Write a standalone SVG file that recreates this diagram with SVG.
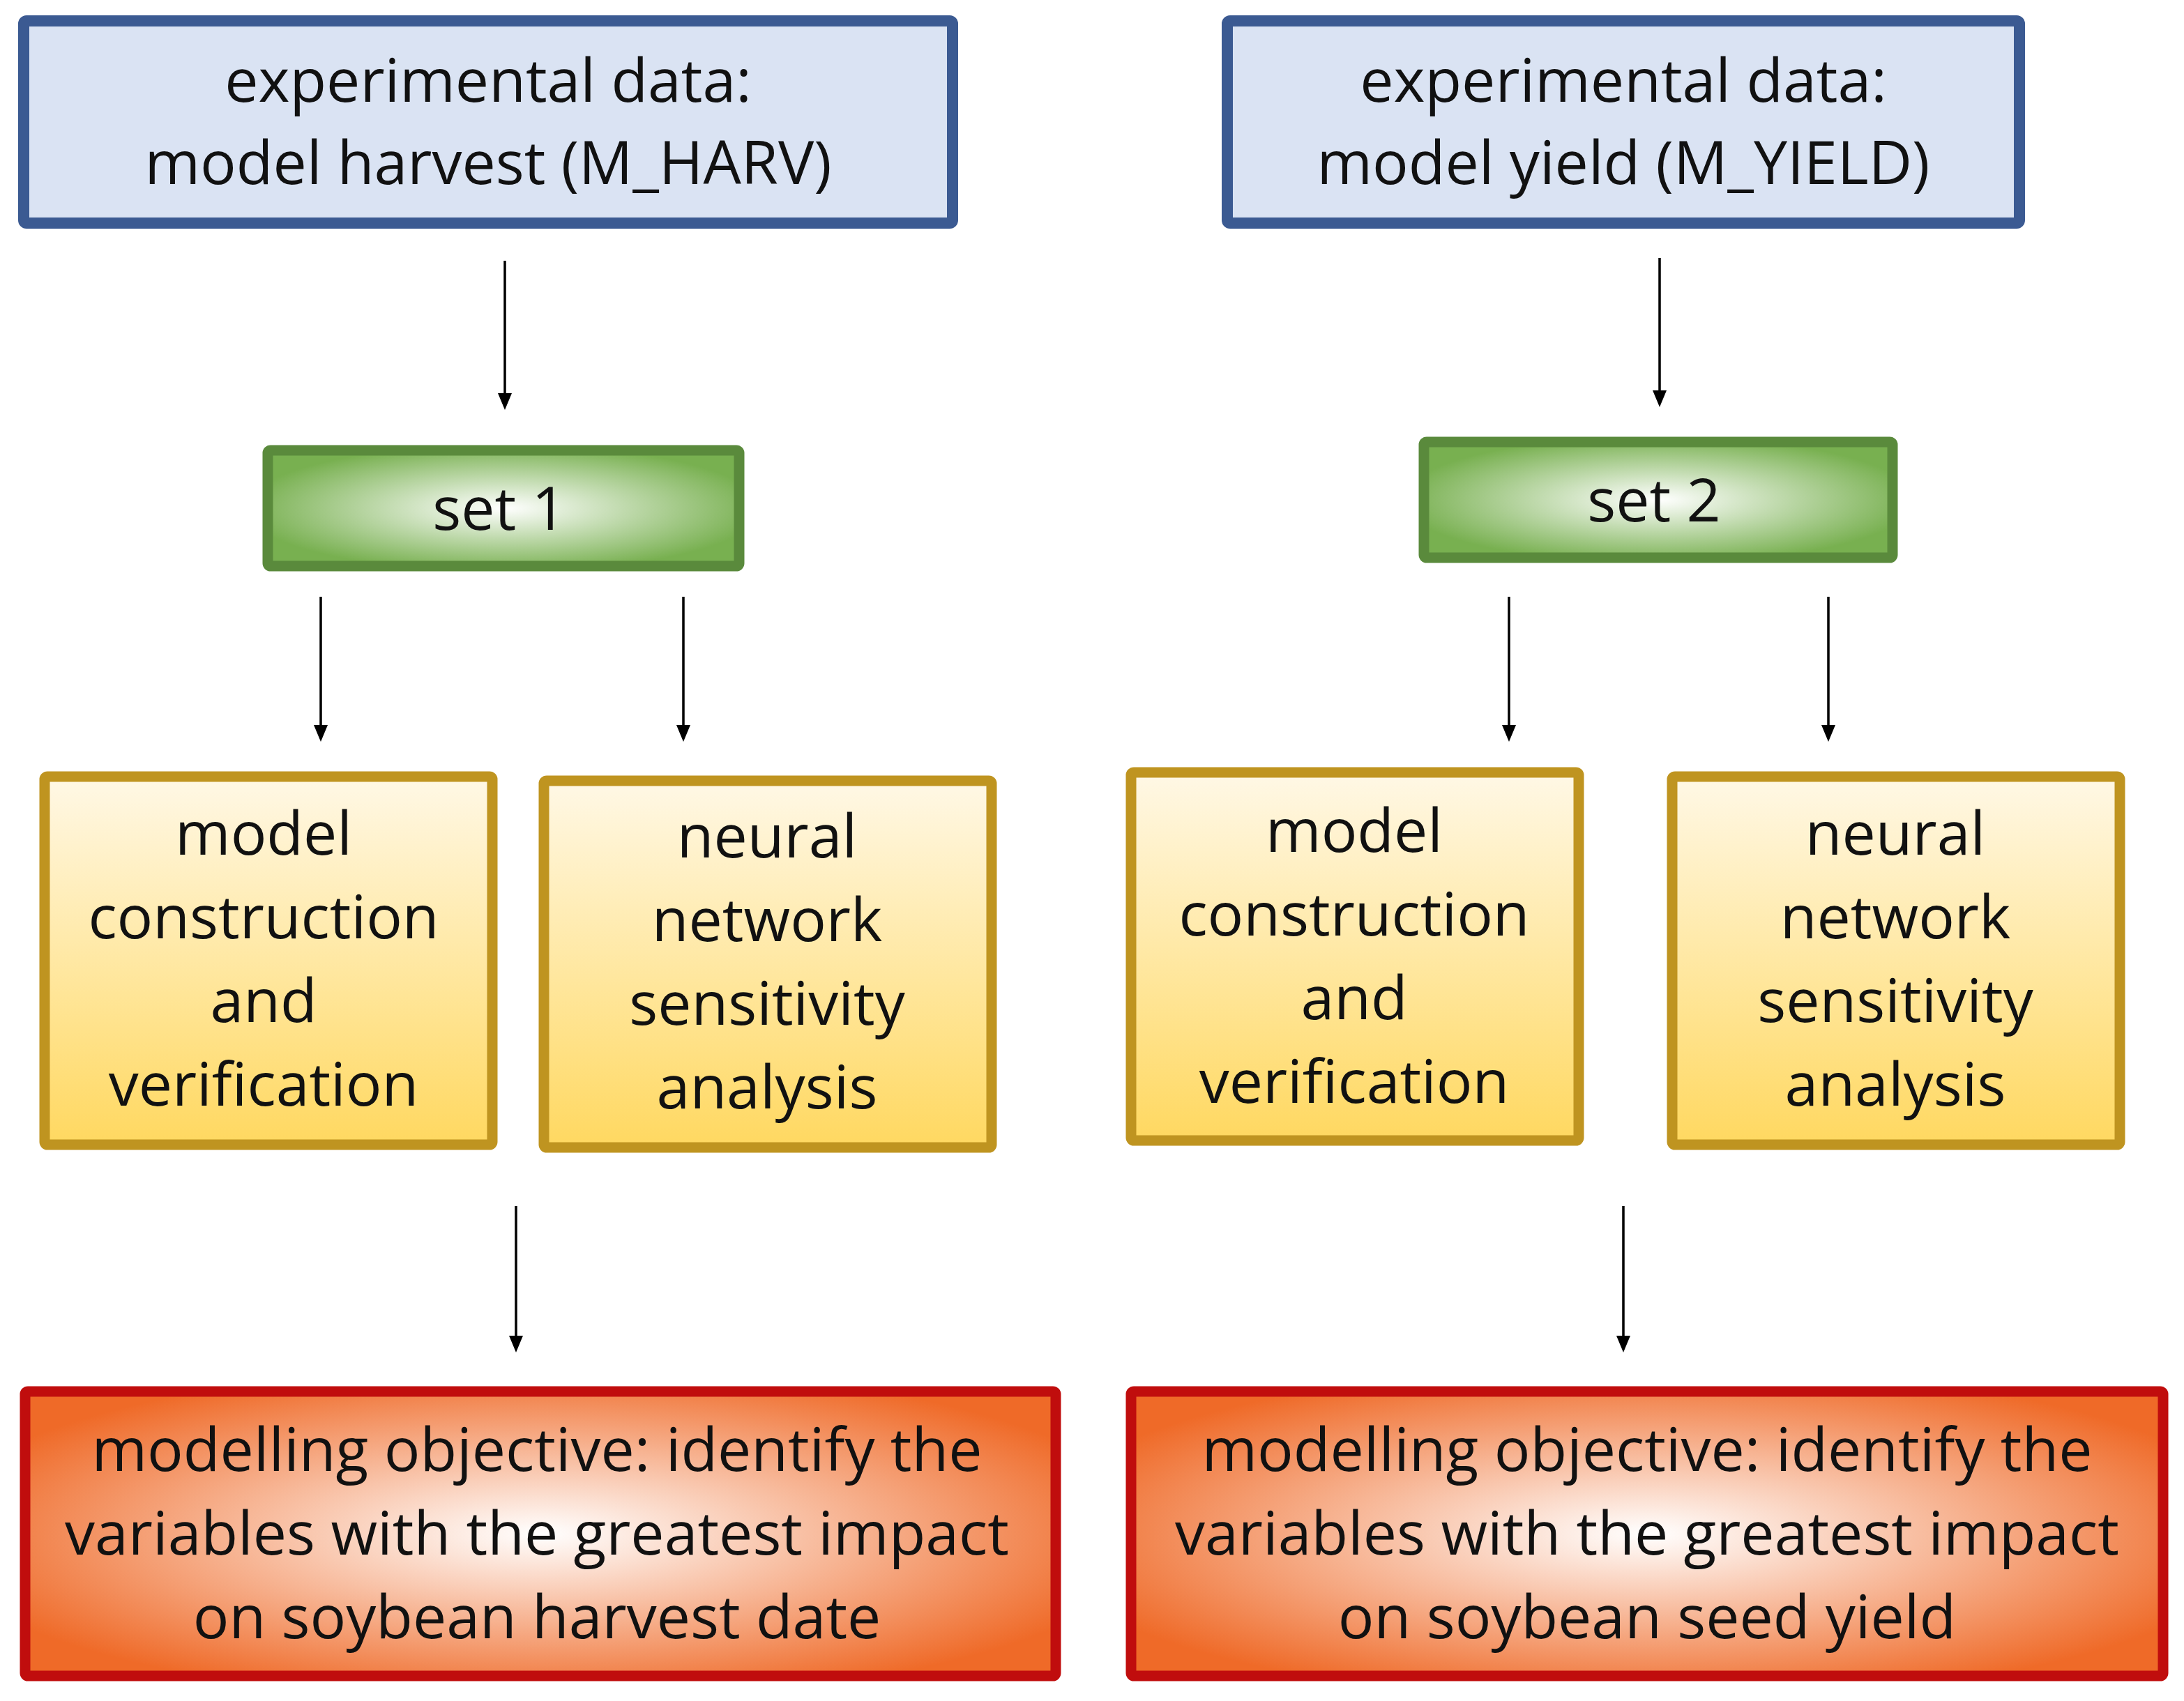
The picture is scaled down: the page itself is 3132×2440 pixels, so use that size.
<svg xmlns="http://www.w3.org/2000/svg" width="3132" height="2440" viewBox="0 0 3132 2440">
<style>
text{font-family:"Open Sans","Liberation Sans",sans-serif;font-size:86px;fill:#111;text-anchor:middle}
.b{fill:#dae3f3;stroke:#3b5a92;stroke-width:16}
.g{fill:url(#gg);stroke:#5a8a3c;stroke-width:15}
.y{fill:url(#gy);stroke:#bf9420;stroke-width:15}
.r{fill:url(#gr);stroke:#c00d0d;stroke-width:15}
</style>
<defs>
<radialGradient id="gg" cx="0.5" cy="0.5" r="0.55"><stop offset="0" stop-color="#fff"/><stop offset="1" stop-color="#78b050"/></radialGradient>
<linearGradient id="gy" x1="0" y1="0" x2="0" y2="1"><stop offset="0" stop-color="#fff8e6"/><stop offset="1" stop-color="#ffd860"/></linearGradient>
<radialGradient id="gr" cx="0.5" cy="0.5" r="0.6"><stop offset="0" stop-color="#fff"/><stop offset="1" stop-color="#ef6a28"/></radialGradient>
</defs>
<g id="connectors">
<path d="M724 374V570M2380 370V566M460 856V1046M980 856V1046M2164 856V1046M2622 856V1046M740 1730V1922M2328 1730V1922" stroke="#000" stroke-width="3.5" fill="none"/>
<path d="M714 564h20l-10 24zM2370 560h20l-10 24zM450 1040h20l-10 24zM970 1040h20l-10 24zM2154 1040h20l-10 24zM2612 1040h20l-10 24zM730 1916h20l-10 24zM2318 1916h20l-10 24z" fill="#000"/>
</g>
<g id="n1"><rect class="b" x="34" y="30" width="1332" height="290" rx="4"/><text x="700" y="146">experimental data:</text><text x="700" y="264">model harvest (M_HARV)</text></g>
<g id="n2"><rect class="b" x="1760" y="30" width="1136" height="290" rx="4"/><text x="2328" y="146">experimental data:</text><text x="2328" y="264">model yield (M_YIELD)</text></g>
<g id="n3"><rect class="g" x="384" y="646" width="676" height="166" rx="4"/><text x="716" y="760">set 1</text></g>
<g id="n4"><rect class="g" x="2042" y="634" width="672" height="166" rx="4"/><text x="2372" y="748">set 2</text></g>
<g id="n5"><rect class="y" x="64" y="1114" width="642" height="528" rx="4"/><text x="378" y="1226">model</text><text x="378" y="1346">construction</text><text x="378" y="1466">and</text><text x="378" y="1586">verification</text></g>
<g id="n6"><rect class="y" x="780" y="1120" width="642" height="526" rx="4"/><text x="1100" y="1230">neural</text><text x="1100" y="1350">network</text><text x="1100" y="1470">sensitivity</text><text x="1100" y="1590">analysis</text></g>
<g id="n7"><rect class="y" x="1622" y="1108" width="642" height="528" rx="4"/><text x="1942" y="1222">model</text><text x="1942" y="1342">construction</text><text x="1942" y="1462">and</text><text x="1942" y="1582">verification</text></g>
<g id="n8"><rect class="y" x="2398" y="1114" width="642" height="528" rx="4"/><text x="2718" y="1226">neural</text><text x="2718" y="1346">network</text><text x="2718" y="1466">sensitivity</text><text x="2718" y="1586">analysis</text></g>
<g id="n9"><rect class="r" x="36" y="1996" width="1478" height="408" rx="4"/><text x="770" y="2110">modelling objective: identify the</text><text x="770" y="2230">variables with the greatest impact</text><text x="770" y="2350">on soybean harvest date</text></g>
<g id="n10"><rect class="r" x="1622" y="1996" width="1480" height="408" rx="4"/><text x="2362" y="2110">modelling objective: identify the</text><text x="2362" y="2230">variables with the greatest impact</text><text x="2362" y="2350">on soybean seed yield</text></g>
</svg>
